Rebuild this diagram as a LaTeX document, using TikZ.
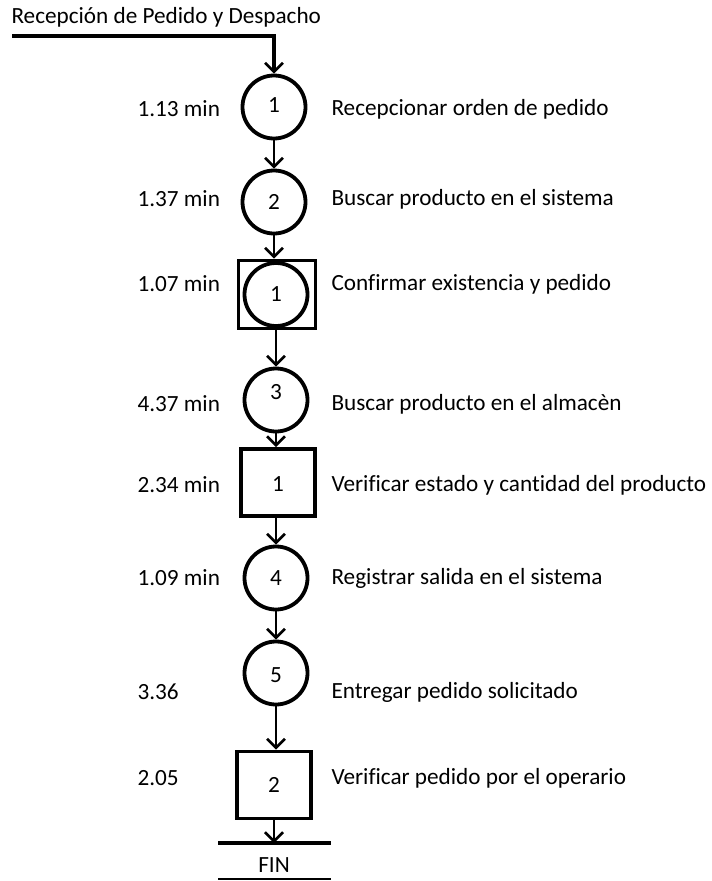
\documentclass[tikz,border=0pt]{standalone}
\usepackage{fontspec}
\setmainfont[Ligatures=NoCommon]{Carlito}
\usetikzlibrary{arrows.meta}
\begin{document}
\begin{tikzpicture}[x=1pt,y=-1pt,
  every node/.style={font=\fontsize{23.2}{28}\selectfont},
  oper/.style={draw,circle,line width=3.8pt,minimum size=63pt,inner sep=0pt},
  insp/.style={draw,rectangle,line width=3.8pt,minimum width=74pt,minimum height=67pt,inner sep=0pt},
  flow/.style={line width=2.6pt,-{Straight Barb[length=9pt,width=18pt,line width=2.6pt]}},
  time/.style={anchor=west},
  desc/.style={anchor=west}]
\useasboundingbox (0,0) rectangle (712,881);

% heading
\node[anchor=west] (titulo) at (8,17) {Recepción de Pedido y Despacho};
\coordinate (ini) at (12,36);

% process symbols
\node[oper] (o1) at (274,107) {};
\node at (274,105) {1};
\node[oper] (o2) at (274,202) {2};
\node[insp,minimum width=77pt,minimum height=68pt] (c1) at (277,294.5) {};
\node[oper] (c1o) at (276,294.5) {1};
\node[oper] (o3) at (276,400) {};
\node at (276,392) {3};
\node[insp] (i1) at (278,482.5) {};
\node at (278,484) {1};
\node[oper] (o4) at (276,578) {4};
\node[oper] (o5) at (276,673) {};
\node at (276,675) {5};
\node[insp] (i2) at (274,785) {2};

% end bar
\coordinate (finL) at (218,843);
\coordinate (finR) at (331,843);
\coordinate (finA) at (274,843);
\node (fin) at (274,865) {FIN};
\coordinate (finbL) at (218,879);
\coordinate (finbR) at (331,879);

% connectors
\draw[flow,line width=3.8pt] (ini) -| (o1.north);
\draw[flow] (o1) -- (o2);
\draw[flow] (o2.south) -- (o2.south |- c1.north);
\draw[flow] (c1.south -| o3) -- (o3.north);
\draw[flow] (o3.south) -- (o3.south |- i1.north);
\draw[flow] (i1.south -| o4) -- (o4.north);
\draw[flow] (o4) -- (o5);
\draw[flow] (o5.south) -- (o5.south |- i2.north);
\draw[flow] (i2.south -| finA) -- (finA);
\draw[line width=3.8pt] (finL) -- (finR);
\draw[line width=1.8pt] (finbL) -- (finbR);

% times
\node[time] (t1) at (134,109) {1.13 min};
\node[time] (t2) at (134,199) {1.37 min};
\node[time] (t3) at (134,284) {1.07 min};
\node[time] (t4) at (134,404) {4.37 min};
\node[time] (t5) at (134,485) {2.34 min};
\node[time] (t6) at (134,578) {1.09 min};
\node[time] (t7) at (134,692) {3.36};
\node[time] (t8) at (134,778) {2.05};

% activities
\node[desc] (d1) at (328,109) {Recepcionar orden de pedido};
\node[desc] (d2) at (328,199) {Buscar producto en el sistema};
\node[desc] (d3) at (328,284) {Confirmar existencia y pedido};
\node[desc] (d4) at (328,404) {Buscar producto en el almacèn};
\node[desc] (d5) at (328,485) {Verificar estado y cantidad del producto};
\node[desc] (d6) at (328,578) {Registrar salida en el sistema};
\node[desc] (d7) at (328,692) {Entregar pedido solicitado};
\node[desc] (d8) at (328,778) {Verificar pedido por el operario};
\end{tikzpicture}
\end{document}
